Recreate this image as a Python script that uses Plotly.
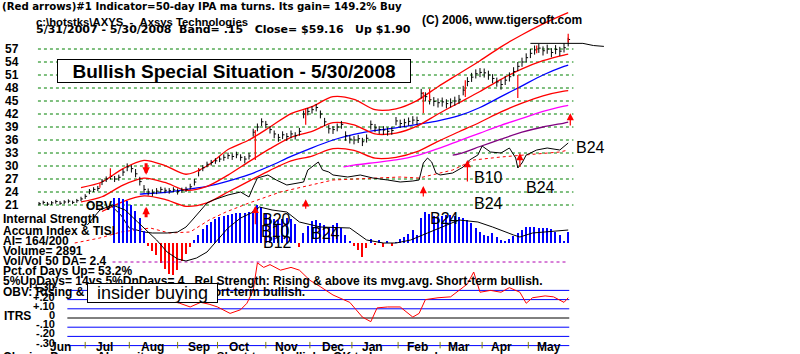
import plotly.graph_objects as go

W, H = 800, 354
FONT = "Liberation Sans, Arial, sans-serif"
FONT2 = "DejaVu Sans, Liberation Sans, sans-serif"

# ---------------- data ----------------
bar_day = list(range(0, 253, 2))
bar_low = [20.9,21.1,20.8,21.0,21.3,21.0,21.2,21.4,21.2,21.5,
           21.9,22.4,23.5,24.0,24.2,25.6,26.3,26.9,26.3,26.6,
           27.7,28.8,28.5,27.4,25.5,23.8,23.2,23.0,23.5,23.8,
           23.7,23.6,23.9,23.4,23.8,24.0,24.6,25.5,27.6,28.8,
           29.7,30.1,30.5,30.9,31.2,31.6,31.4,31.8,31.2,30.6,
           31.5,36.8,38.0,39.2,38.7,37.5,36.4,35.6,36.2,35.8,
           36.4,36.1,37.0,41.0,41.7,42.1,42.6,41.0,39.2,37.5,
           37.4,38.0,38.6,35.8,35.2,35.0,35.3,34.6,35.4,38.4,
           37.8,37.4,37.2,37.0,37.2,39.4,38.8,39.0,39.3,39.6,
           39.5,45.6,44.9,44.2,43.8,43.5,43.7,43.3,43.5,43.9,
           44.3,46.3,48.4,49.4,50.2,50.5,50.4,49.9,49.1,48.3,
           47.6,48.7,49.5,50.7,51.9,52.9,53.9,54.9,55.7,56.1,
           55.5,55.9,55.1,55.8,55.4,56.2,57.6]
bar_high = [21.7,22.0,21.7,21.9,22.2,21.9,22.1,22.3,22.0,22.4,
            22.9,23.5,24.7,25.1,25.4,27.0,27.6,28.2,27.7,28.0,
            29.3,30.6,30.2,29.3,27.5,25.6,24.8,24.6,24.9,25.2,
            25.0,24.9,25.1,24.8,25.0,25.2,25.9,27.0,29.5,30.2,
            31.0,31.4,31.8,32.2,32.7,33.1,32.9,33.3,32.7,32.3,
            33.0,38.6,39.8,41.0,40.4,39.2,38.2,37.4,38.0,37.6,
            38.2,37.8,38.8,42.8,43.4,43.8,44.3,42.8,41.1,39.5,
            39.2,39.8,40.4,38.0,37.1,36.9,37.2,36.5,37.3,40.5,
            39.7,39.2,39.2,38.9,39.1,41.3,40.7,40.9,41.2,41.5,
            41.4,47.8,47.0,46.3,45.9,45.6,45.8,45.4,45.6,46.0,
            46.4,48.5,50.5,51.5,52.3,52.6,52.5,52.0,51.2,50.4,
            49.9,50.8,51.6,52.8,54.0,55.0,56.0,57.0,57.8,58.2,
            57.6,58.0,57.2,57.9,57.5,58.3,59.6]
bar_close = [21.3,21.6,21.2,21.5,21.8,21.4,21.7,21.9,21.6,22.0,
             22.4,23.0,24.2,24.6,24.8,26.5,27.0,27.6,27.0,27.4,
             28.6,29.8,29.4,28.2,26.4,24.6,24.0,23.8,24.2,24.6,
             24.4,24.3,24.5,24.1,24.4,24.6,25.2,26.3,29.0,29.6,
             30.4,30.8,31.2,31.6,32.0,32.4,32.2,32.6,32.0,31.6,
             32.3,37.8,39.0,40.2,39.6,38.4,37.4,36.6,37.2,36.8,
             37.4,37.0,38.0,42.0,42.6,43.0,43.5,42.0,40.2,38.6,
             38.4,39.0,39.6,37.0,36.2,36.0,36.3,35.6,36.4,39.6,
             38.8,38.4,38.3,38.0,38.2,40.4,39.8,40.0,40.3,40.6,
             40.5,46.8,46.0,45.3,44.9,44.6,44.8,44.4,44.6,45.0,
             45.4,47.5,49.5,50.5,51.3,51.6,51.5,51.0,50.2,49.4,
             48.8,49.8,50.6,51.8,53.0,54.0,55.0,56.0,56.8,57.2,
             56.6,57.0,56.2,56.9,56.5,57.3,59.2]

band_day = [20,30,40,50,60,70,80,90,100,110,120,130,140,150,160,170,180,190,200,210,220,230,240,250,252]
band_mid = [21.7,22.9,25.6,27.2,26.2,24.4,25.3,27.9,31.0,34.0,36.6,38.0,40.0,39.5,37.4,37.6,39.2,42.0,44.6,47.2,50.0,52.4,54.3,55.6,55.8]
band_up = [25.0,26.3,29.4,31.3,30.1,28.1,30.0,33.8,36.0,39.0,42.1,43.7,46.0,45.4,43.0,43.2,45.1,48.3,51.3,54.3,57.5,60.3,62.8,65.0,65.4]
low_day = [30,40,50,60,70,80,90,100,110,120,130,140,150,160,170,180,190,200,210,220,230,240,250,252]
band_low = [19.5,21.8,23.1,22.3,20.7,21.5,24.0,26.5,29.0,31.2,32.3,34.0,33.6,31.8,32.0,33.3,35.7,37.9,40.1,42.5,44.5,46.2,47.3,47.4]

ma50_day = [48,50,60,70,80,90,100,110,120,130,140,150,160,170,180,190,200,210,220,230,240,250,252]
ma50 = [23.5,23.6,23.9,24.6,25.3,26.5,28.0,30.0,32.2,34.2,36.0,37.3,38.2,38.8,39.6,40.4,41.6,43.5,46.0,48.5,51.0,53.0,53.3]
mag_day = [145,150,160,170,180,190,200,210,220,230,240,250,252]
mag_val = [29.8,30.2,30.8,31.4,32.4,34.0,35.8,37.6,39.4,41.0,42.6,43.8,44.0]
pur_day = [197,200,210,220,230,240,250,252]
pur_val = [32.5,32.8,34.5,36.2,37.8,39.0,39.9,40.1]

proj_day = [234,252,259,264,269]
proj_val = [58.3,58.4,58.3,57.8,57.6]

obv_day = [34,39,43,50,54,61,66,70,73,77,80,83,90,96,100,102,104,109,113,118,
           123,126,128,130,133,135,138,140,147,153,159,166,172,178,181,183,185,187,189,191,
           197,202,205,209,211,215,220,224,227,228,230,232,237,242,248,252]
obv_val = [700,500,240,160,140,140,160,260,400,600,740,800,900,960,860,1060,1240,1300,1200,1100,
           1140,1160,1400,1460,1560,1400,1360,1300,1260,1300,1240,1200,1160,1180,1200,1540,1640,1560,1340,1300,
           1340,1460,1600,1700,1880,1760,1740,1840,1640,1440,1540,1700,1800,1840,1800,1940]
obv_ma_day = [17,29,39,53,62,72,81,89,100,115,140,172,181,197,207,220,248,252]
obv_ma_val = [-60,40,160,240,140,160,400,560,740,960,1200,1260,1240,1400,1600,1660,1760,1800]

ai_day = list(range(36, 253, 2))
ai_val = [0.45,0.45,0.44,0.42,0.38,0.32,0.25,0.12,-0.03,-0.08,
          -0.12,-0.20,-0.26,-0.31,-0.32,-0.27,-0.18,-0.11,-0.04,0.03,
          0.08,0.14,0.18,0.21,0.24,0.26,0.27,0.28,0.29,0.30,
          0.30,0.30,0.31,0.32,0.38,0.36,0.30,0.26,0.24,0.23,
          0.24,0.25,0.24,0.19,-0.04,0.10,0.17,0.22,0.23,0.20,
          0.18,0.16,0.18,0.20,0.15,0.08,0.02,-0.03,-0.07,-0.14,
          -0.05,0.04,-0.02,0.03,-0.04,0.02,-0.03,0.01,0.04,0.06,
          0.09,0.13,0.08,0.25,0.31,0.29,0.27,0.26,0.27,0.28,
          0.28,0.27,0.26,0.25,0.23,0.20,0.15,0.11,0.08,0.07,
          0.10,0.06,0.03,0.02,0.04,0.07,0.10,0.13,0.16,0.16,
          0.16,0.15,0.15,0.15,0.14,0.11,0.08,0.02,0.11]
tisi_day = [23,29,35,41,47,51,56,61,66,70,75,80,85,90,96,102,105,111,118,124,
            134,148,156,164,170,177,185,192,200,209,216,226,229,235,248,252]
tisi_val = [0.18,0.33,0.38,0.33,0.21,0.13,0.03,-0.09,-0.16,-0.18,-0.15,-0.09,0.03,0.15,0.25,0.31,0.36,0.33,0.31,0.21,
            0.16,0.15,0.03,0.0,0.0,0.03,0.10,0.16,0.23,0.21,0.16,0.08,0.06,0.10,0.12,0.13]

itrs_day = [50,58,67,72,77,81,85,91,96,99,102,104,107,110,115,120,124,129,134,140,
            145,148,151,154,158,161,166,172,178,181,184,190,196,200,204,207,210,215,220,224,
            229,232,235,241,245,250,252]
itrs_val = [0.21,0.22,0.16,0.12,0.17,0.15,0.12,0.05,0.09,0.16,0.30,0.60,0.55,0.58,0.52,0.55,0.52,0.41,0.34,0.25,
            0.20,0.17,0.09,0.01,-0.04,0.11,0.12,0.12,0.01,0.05,0.20,0.22,0.23,0.30,0.37,0.50,0.28,0.30,0.28,0.33,
            0.28,0.16,0.22,0.24,0.23,0.17,0.22]
itrs_levels = [0.30, 0.20, 0.10, 0.0, -0.10, -0.20, -0.30]
itrs_labels = ["+.30", "+.20", "+.10", "0", "-.10", "-.20", "-.30"]

price_ticks = [57, 54, 51, 48, 45, 42, 39, 36, 33, 30, 27, 24, 21]

red_seg_day = [29, 34, 76, 103, 127, 183, 186, 203, 228, 237, 252]
red_seg_lo = [25.0, 27.3, 28.6, 31.4, 39.5, 42.2, 45.0, 45.9, 45.7, 56.0, 58.5]
red_seg_hi = [26.1, 29.5, 29.5, 38.3, 43.4, 47.1, 47.8, 49.8, 51.0, 57.8, 60.5]

arrow_day = [51, 51, 103, 127, 183, 204, 229, 253]
arrow_tail = [17.8, 31.0, 16.2, 19.8, 22.6, 26.1, 29.5, 39.0]
arrow_head = [20.6, 28.0, 20.8, 22.3, 25.4, 31.4, 33.0, 42.2]
arrow_w = [3, 3, 1.2, 1.2, 1.2, 1.2, 1.2, 1.2]
arrow_s = [0.5, 0.5, 1.2, 1.2, 1.2, 1.2, 1.2, 1.2]

month_tick_day = [22, 43, 66, 85, 108, 129, 149, 171, 191, 211, 233]
month_label_day = [10, 31, 54, 76, 95, 118, 140, 159, 180, 200, 220, 243]
month_labels = ["Jun", "Jul", "Aug", "Sep", "Oct", "Nov", "Dec", "Jan", "Feb", "Mar", "Apr", "May"]

b_labels = ["B20", "B10", "B12", "B24", "B24", "B24", "B10", "B24", "B24"]
b_px = [(276, 219), (275, 231), (277, 243), (325, 233), (444, 218), (489, 203), (489, 177), (540, 187), (590, 147)]

# ---------------- figure ----------------
fig = go.Figure()
RED = "#ff0000"; BLUE = "#0000ff"; GREEN = "#008000"

def line(x, y, color, width=1.0, axis="y", dash="solid", shape="linear"):
    fig.add_trace(go.Scatter(x=x, y=y, mode="lines", yaxis=axis, hoverinfo="skip",
                             line=dict(color=color, width=width, dash=dash, shape=shape,
                                       smoothing=0.8 if shape == "spline" else None)))

# price grid
for p in price_ticks:
    line([-0.5, 254.5], [p, p], GREEN, 1, dash="dot")

# accum panel dotted guide line
line([35, 252], [-0.19, -0.19], "#b000b0", 1, axis="y3", dash="dot")

# ITRS panel lines
for lv in itrs_levels:
    line([13.5, 252.5], [lv, lv], "black" if lv == 0 else BLUE, 1, axis="y4")

# accumulation histogram
fig.add_trace(go.Bar(x=ai_day, y=ai_val, yaxis="y3", width=0.75, hoverinfo="skip",
                     marker=dict(color=[BLUE if v >= 0 else RED for v in ai_val], line=dict(width=0))))
line(tisi_day, tisi_val, "black", 1, axis="y3")

# OBV
line(obv_ma_day, obv_ma_val, RED, 1, axis="y2", dash="dot")
line(obv_day, obv_val, "black", 1, axis="y2")

# bands and averages
line(pur_day, pur_val, "#800080", 1.3, shape="spline")
line(mag_day, mag_val, "#ff00ff", 1.3, shape="spline")
line(ma50_day, ma50, BLUE, 1.3, shape="spline")
line(low_day, band_low, RED, 1.3, shape="spline")
line(band_day, band_mid, RED, 1.3, shape="spline")
line(band_day, band_up, RED, 1.3, shape="spline")

# price bars
bx, by, cx, cy = [], [], [], []
for d, lo, hi, c in zip(bar_day, bar_low, bar_high, bar_close):
    bx += [d, d, None]; by += [lo, hi, None]
    cx += [d, d + 0.9, None]; cy += [c, c, None]
fig.add_trace(go.Scatter(x=bx, y=by, mode="lines", line=dict(color="black", width=1), hoverinfo="skip"))
fig.add_trace(go.Scatter(x=cx, y=cy, mode="lines", line=dict(color="black", width=1), hoverinfo="skip"))
line(proj_day, proj_val, "black", 1)

# red bars / markers
rx, ry = [], []
for d, lo, hi in zip(red_seg_day, red_seg_lo, red_seg_hi):
    rx += [d, d, None]; ry += [lo, hi, None]
fig.add_trace(go.Scatter(x=rx, y=ry, mode="lines", line=dict(color=RED, width=1.2), hoverinfo="skip"))

# ITRS
line(itrs_day, itrs_val, RED, 1, axis="y4")

# month ticks
tx, ty = [], []
for d in month_tick_day:
    tx += [d, d, None]; ty += [-0.26, -0.33, None]
fig.add_trace(go.Scatter(x=tx, y=ty, yaxis="y4", mode="lines", line=dict(color="#808000", width=1), hoverinfo="skip"))

# arrows
for d, t, h, w, s in zip(arrow_day, arrow_tail, arrow_head, arrow_w, arrow_s):
    fig.add_annotation(x=d, y=h, ax=d, ay=t, xref="x", yref="y", axref="x", ayref="y",
                       showarrow=True, arrowhead=2, arrowsize=s, arrowwidth=w, arrowcolor=RED, text="")

def txt(s, px, py, size, bold=True, anchor="left", color="black", family=FONT, **kw):
    fig.add_annotation(text=f"<b>{s}</b>" if bold else s, x=px / W, y=1 - py / H,
                       xref="paper", yref="paper", xanchor=anchor, yanchor="middle",
                       showarrow=False, font=dict(size=size, color=color, family=family), **kw)

# price labels
for p in price_ticks:
    fig.add_annotation(text=f"<b>{p}</b>", x=3 / W, y=p, xref="paper", yref="y", xanchor="left",
                       yanchor="middle", showarrow=False, font=dict(size=12, color="black", family=FONT))
# ITRS labels
for lv, lab in zip(itrs_levels, itrs_labels):
    fig.add_annotation(text=f"<b>{lab}</b>", x=57 / W, y=lv, xref="paper", yref="y4", xanchor="right",
                       yanchor="middle", yshift=3, showarrow=False, font=dict(size=11, color="black", family=FONT))
# month labels
for d, lab in zip(month_label_day, month_labels):
    fig.add_annotation(text=f"<b>{lab}</b>", x=d, y=1 - 347 / H, xref="x", yref="paper", xanchor="center",
                       yanchor="middle", showarrow=False, font=dict(size=12, color="black", family=FONT))

NB = "&nbsp;"
txt("(Red arrows)#1 Indicator=50-day IPA ma turns. Its gain= 149.2% Buy", 0, 6.5, 10.2, family=FONT2)
txt(r"c:\hotstks\AXYS" + NB * 2 + "-" + NB * 2 + "Axsys Technologies", 34, 21.5, 11.3)
txt("5/31/2007 - 5/30/2008" + NB * 2 + "Band= .15" + NB * 3 + "Close= $59.16" + NB * 3 + "Up $1.90",
    34, 29.5, 11, family=FONT2)
txt("(C) 2006, www.tigersoft.com", 420, 20.5, 12)
txt("OBV", 84, 206, 12)

left_rows = ["Internal Strength", "Accum Index &amp; TISI", "AI= 164/200", "Volume= 2891",
             "Vol/Vol 50 DA= 2.4", "Pct.of Days Up= 53.2%",
             "5%UpDays= 14vs 5%DnDays= 4" + NB * 3 + "Rel.Strength: Rising &amp; above its mvg.avg. Short-term bullish.",
             "OBV: Rising &amp; above its mvg.avg. Short-term bullish."]
left_y = [219, 230.5, 241, 251, 261, 271, 281, 291.5]
for s, yy in zip(left_rows, left_y):
    txt(s, 1, yy, 12)
txt("ITRS", 2, 316, 12)
txt("Closing Power:" + NB * 2 + "Above its mvg.avg." + NB * 3 + "Short-term bullish." + NB * 3 + "OK to buy on weakness.",
    1, 357, 12)

for s, (px, py) in zip(b_labels, b_px):
    txt(s, px, py, 16, bold=False, anchor="center")

# boxes
fig.add_annotation(text="<b>Bullish Special Situation - 5/30/2008</b>", x=57 / W, y=1 - 59 / H,
                   xref="paper", yref="paper", xanchor="left", yanchor="top", showarrow=False,
                   width=352, height=22, align="center", bgcolor="white", bordercolor="black",
                   borderwidth=1, borderpad=0, font=dict(size=19, color="black", family=FONT))
fig.add_annotation(text="insider buying", x=87 / W, y=1 - 283 / H,
                   xref="paper", yref="paper", xanchor="left", yanchor="top", showarrow=False,
                   width=129, height=18, align="center", bgcolor="white", bordercolor="black",
                   borderwidth=1, borderpad=0, font=dict(size=18, color="black", family=FONT))

hid = dict(visible=False, fixedrange=True)
fig.update_layout(
    width=W, height=H, margin=dict(l=0, r=0, t=0, b=0),
    paper_bgcolor="white", plot_bgcolor="white", showlegend=False, bargap=0,
    xaxis=dict(range=[-39 / 2.1, (W - 39) / 2.1], domain=[0, 1], **hid),
    yaxis=dict(range=[57 - (H - 49) * 3 / 13, 57 + 49 * 3 / 13], domain=[0, 1], **hid),
    yaxis2=dict(range=[(240 - H) * 20, 240 * 20], overlaying="y", **hid),
    yaxis3=dict(range=[(243 - H) / 100, 243 / 100], overlaying="y", **hid),
    yaxis4=dict(range=[(318 - H) / 92, 318 / 92], overlaying="y", **hid),
)
fig.write_html("out.html")
